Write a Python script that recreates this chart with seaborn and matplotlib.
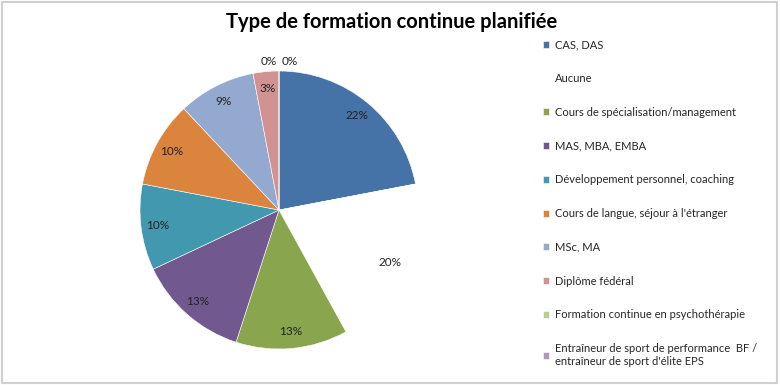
import matplotlib
matplotlib.use("Agg")
import matplotlib.pyplot as plt
import seaborn as sns
import numpy as np
from matplotlib.patches import Rectangle

categories = [
    "CAS, DAS",
    "Aucune",
    "Cours de spécialisation/management",
    "MAS, MBA, EMBA",
    "Développement personnel, coaching",
    "Cours de langue, séjour à l'étranger",
    "MSc, MA",
    "Diplôme fédéral",
    "Formation continue en psychothérapie",
    "Entraîneur de sport de performance  BF /\nentraîneur de sport d'élite EPS",
]
values = [22, 20, 13, 13, 10, 10, 9, 3, 0, 0]
colors = ["#4572A7", "#FFFFFF", "#89A54E", "#71588F", "#4198AF",
          "#DB843D", "#93A9CF", "#D19392", "#B9CD96", "#A99BBD"]

sns.set_theme(style="white")
plt.rcParams["font.family"] = ["Lato", "DejaVu Sans"]

fig = plt.figure(figsize=(7.8, 3.85), dpi=100)
ax = fig.add_axes([140 / 780, 36 / 385, 278 / 780, 278 / 385])

wedges, texts, autotexts = ax.pie(
    values, colors=colors, startangle=90, counterclock=False,
    autopct=lambda p: f"{p:.0f}%" if p > 0 else "",
    pctdistance=0.88, wedgeprops=dict(edgecolor="white", linewidth=0.4),
    textprops=dict(fontsize=8.5, color="#222222"),
)
ax.set_xlim(-1, 1)
ax.set_ylim(-1, 1)
ax.axis("off")

# zero-size slices: label just outside the rim at their angle
zero_idx = [i for i, v in enumerate(values) if v == 0]
for k, i in enumerate(zero_idx):
    ang = np.deg2rad(wedges[i].theta1)
    x, y = 1.065 * np.cos(ang), 1.065 * np.sin(ang)
    ax.text(x + (k - 0.5) * 0.15, y, "0%", fontsize=8.5, color="#222222",
            ha="center", va="center")

fig.suptitle("Type de formation continue planifiée", x=0.502, y=0.968,
             fontsize=14.5, fontweight="bold", color="black")

leg = fig.legend(wedges, categories, loc="upper left",
                 bbox_to_anchor=(0.69, 0.91), frameon=False, fontsize=8,
                 handlelength=0.6, handleheight=0.6, handletextpad=0.5,
                 labelspacing=2.05, borderaxespad=0)

fig.patches.append(Rectangle((0.002, 0.004), 0.994, 0.992, transform=fig.transFigure,
                             fill=False, edgecolor="#d0d0d0", linewidth=1.5))

plt.savefig("out.png", dpi=100)
